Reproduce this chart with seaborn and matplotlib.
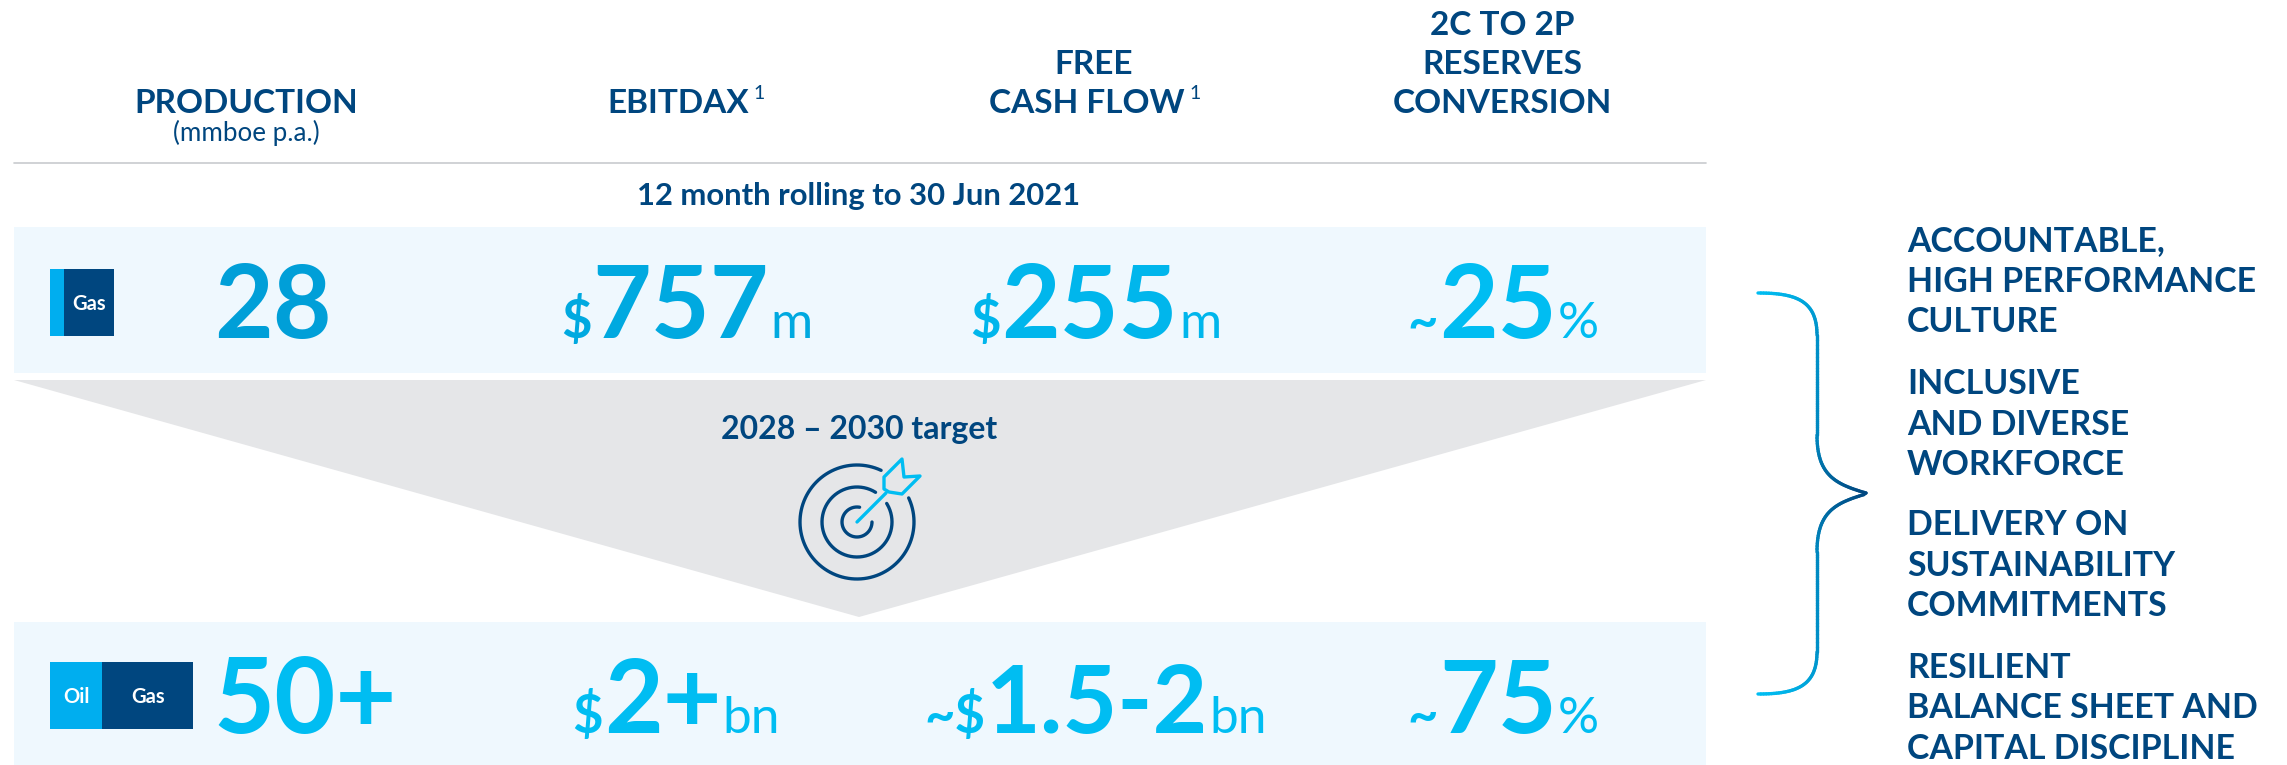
import numpy as np
import matplotlib
matplotlib.use("Agg")
import matplotlib.pyplot as plt
import seaborn as sns
from matplotlib.collections import LineCollection
from matplotlib.colors import LinearSegmentedColormap
from matplotlib.patches import Polygon, Rectangle

# header text
headers = ["PRODUCTION", "EBITDAX", "FREE\nCASH FLOW", "2C TO 2P\nRESERVES\nCONVERSION"]
header_sup = ["", "1", "1", ""]
header_sub = "(mmboe p.a.)"

# kpi rows
now_prefix = ["", "$", "$", "~"]
now_value = ["28", "757", "255", "25"]
now_unit = ["", "m", "m", "%"]
now_colors = ["#009FD8", "#00A9E0", "#00B6EC", "#00BDF2"]

target_prefix = ["", "$", "~$", "~"]
target_value = ["50+", "2+", "1.5-2", "75"]
target_unit = ["", "bn", "bn", "%"]

# right hand list
priorities = [
    "ACCOUNTABLE,\nHIGH PERFORMANCE\nCULTURE",
    "INCLUSIVE\nAND DIVERSE\nWORKFORCE",
    "DELIVERY ON\nSUSTAINABILITY\nCOMMITMENTS",
    "RESILIENT\nBALANCE SHEET AND\nCAPITAL DISCIPLINE",
]

NAVY = "#00467F"
SKY = "#00BDF2"
TAG_BLUE = "#00AEEF"
BAND = "#EFF8FE"
GREY = "#E5E6E8"

sns.set_theme(style="white")
plt.rcParams["font.family"] = ["Lato", "DejaVu Sans"]

fig = plt.figure(figsize=(22.87, 7.65), dpi=100)
ax = fig.add_axes([0, 0, 1, 1])
ax.set_xlim(0, 2287)
ax.set_ylim(765, 0)
ax.axis("off")
renderer = fig.canvas.get_renderer()

# last line of a header can sit off its column centre
col_x = [246, 680, 1094, 1502]
last_line_x = [246, 678, 1087, 1502]
header_y = [103, 64, 25]


def draw_run(center, baseline, parts):
    # parts are (text, size, color, weight), laid out side by side around center
    items = []
    for s, size, color, weight in parts:
        if s:
            t = ax.text(center, baseline, s, fontsize=size, color=color, fontweight=weight, va="baseline", ha="left")
            items.append((t, t.get_window_extent(renderer).width + 1))
    x = center - sum(w for _, w in items) / 2
    for t, w in items:
        t.set_x(x)
        x += w


# header row
for x, lx, label, sup in zip(col_x, last_line_x, headers, header_sup):
    lines = label.split("\n")[::-1]
    for i, line in enumerate(lines):
        t = ax.text(lx if i == 0 else x, header_y[i], line, fontsize=24, color=NAVY, fontweight="bold", ha="center", va="center")
        if i == 0 and sup:
            w = t.get_window_extent(renderer).width
            ax.text(lx + w / 2 + 5, 93, sup, fontsize=14, color=NAVY, ha="left", va="center")
ax.text(col_x[0], 133, header_sub, fontsize=18.7, color=NAVY, ha="center", va="center")

ax.plot([14, 1706], [163, 163], color="#C8CBCE", lw=1.2)
ax.text(859, 196, "12 month rolling to 30 Jun 2021", fontsize=22.3, color=NAVY, fontweight="bold", ha="center", va="center")

# bands and wedge
ax.add_patch(Rectangle((14, 227), 1692, 146, color=BAND, lw=0))
ax.add_patch(Rectangle((14, 622), 1692, 143, color=BAND, lw=0))
ax.add_patch(Polygon([(14, 380), (1706, 380), (859, 617)], closed=True, color=GREY, lw=0))
ax.text(859, 429, "2028 – 2030 target", fontsize=23, color=NAVY, fontweight="bold", ha="center", va="center")

# tags
ax.add_patch(Rectangle((50, 269), 14, 67, color=TAG_BLUE, lw=0))
ax.add_patch(Rectangle((64, 269), 50, 67, color=NAVY, lw=0))
ax.text(89, 304, "Gas", fontsize=14.5, color="white", fontweight="bold", ha="center", va="center")
ax.add_patch(Rectangle((50, 662), 52, 67, color=TAG_BLUE, lw=0))
ax.add_patch(Rectangle((102, 662), 91, 67, color=NAVY, lw=0))
ax.text(76, 697, "Oil", fontsize=14.5, color="white", fontweight="bold", ha="center", va="center")
ax.text(148, 697, "Gas", fontsize=14.5, color="white", fontweight="bold", ha="center", va="center")

# kpi numbers
now_centers = [273, 687, 1096, 1504]
target_centers = [306, 677, 1096, 1504]
target_sizes = [76, 73, 68, 73]
for c, p, v, u, color in zip(now_centers, now_prefix, now_value, now_unit, now_colors):
    draw_run(c, 338, [(p, 38, color, "bold"), (v, 73, color, "bold"), (u, 37, color, "regular")])
for c, p, v, u, size in zip(target_centers, target_prefix, target_value, target_unit, target_sizes):
    draw_run(c, 733, [(p, 38, SKY, "bold"), (v, size, SKY, "bold"), (u, 37, SKY, "regular")])

# target icon, arcs leave a gap where the dart comes in
cx, cy = 857, 522
for r, start, end in [(57, 65, 385), (35, 58, 392), (15, 80, 360)]:
    a = np.radians(np.linspace(start, end, 200))
    ax.plot(cx + r * np.cos(a), cy - r * np.sin(a), color=NAVY, lw=2.4, solid_capstyle="round")
ax.plot([cx, 886], [cy, 493], color=SKY, lw=2.4, solid_capstyle="round")
ax.add_patch(Polygon([(884, 489), (884, 477), (902, 459), (904, 477), (920, 476), (902, 494), (889, 492)],
                     closed=True, fill=False, edgecolor=SKY, lw=2.4, joinstyle="round"))


def bez(p0, p1, p2, p3, n=40):
    t = np.linspace(0, 1, n)[:, None]
    p0, p1, p2, p3 = map(np.array, (p0, p1, p2, p3))
    return (1 - t) ** 3 * p0 + 3 * (1 - t) ** 2 * t * p1 + 3 * (1 - t) * t ** 2 * p2 + t ** 3 * p3


# brace with a gradient towards the tip
upper = np.vstack([
    bez((1758, 293), (1795, 293), (1817, 300), (1817, 335)),
    bez((1817, 335), (1817, 400), (1817, 400), (1817, 435)),
    bez((1817, 435), (1817, 475), (1835, 484), (1866, 493)),
])
lower = upper[::-1] * [1, -1] + [0, 987]
pts = np.vstack([upper, lower[1:]])
segs = np.stack([pts[:-1], pts[1:]], axis=1)
brace_cmap = LinearSegmentedColormap.from_list("brace", [SKY, "#0090C8", "#0088C0", NAVY, "#0088C0", "#0090C8", SKY])
lc = LineCollection(segs, cmap=brace_cmap, lw=2.4, capstyle="round")
lc.set_array(np.linspace(0, 1, len(segs)))
ax.add_collection(lc)

# right hand list
list_y = [241, 384, 525, 668]
for y0, block in zip(list_y, priorities):
    for i, line in enumerate(block.split("\n")):
        ax.text(1907, y0 + i * 40.5, line, fontsize=24.4, color=NAVY, fontweight="bold", ha="left", va="center")

fig.savefig("out.png", dpi=100)
